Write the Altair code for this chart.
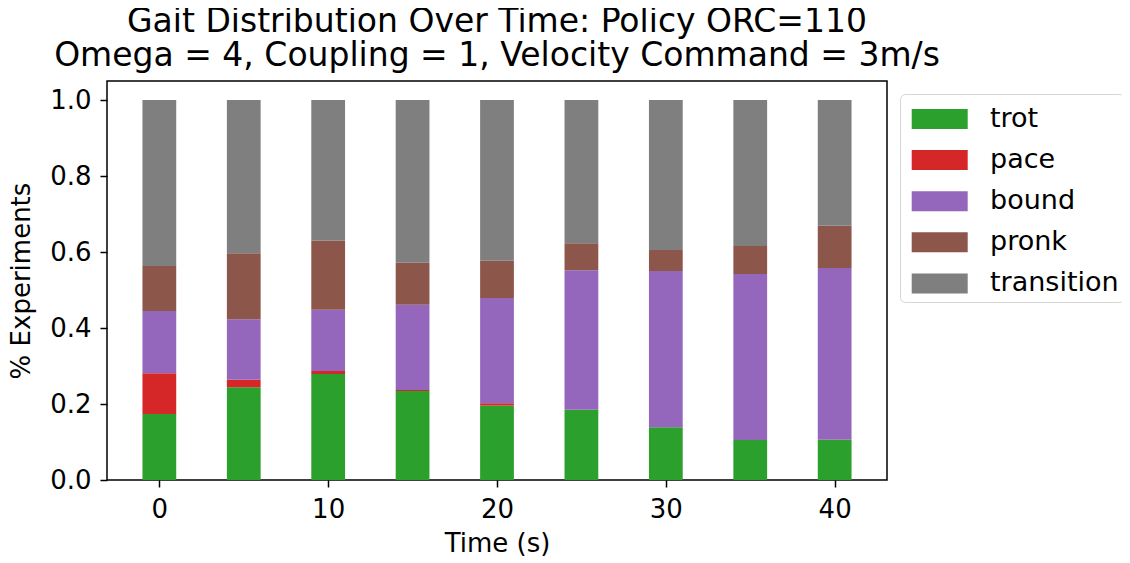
import altair as alt
import pandas as pd

times = [0, 5, 10, 15, 20, 25, 30, 35, 40]
gaits = ["trot", "pace", "bound", "pronk", "transition"]
colors = ["#2ca02c", "#d62728", "#9467bd", "#8c564b", "#7f7f7f"]

trot = [0.174, 0.244, 0.279, 0.234, 0.196, 0.185, 0.139, 0.105, 0.106]
pace = [0.107, 0.020, 0.008, 0.003, 0.006, 0.000, 0.000, 0.000, 0.000]
bound = [0.164, 0.159, 0.161, 0.224, 0.277, 0.367, 0.411, 0.437, 0.452]
pronk = [0.118, 0.174, 0.182, 0.111, 0.098, 0.071, 0.055, 0.074, 0.111]
transition = [0.437, 0.403, 0.370, 0.428, 0.423, 0.377, 0.395, 0.384, 0.331]

series = [trot, pace, bound, pronk, transition]
rows = []
for gi, (g, vals) in enumerate(zip(gaits, series)):
    for t, v in zip(times, vals):
        rows.append({"t": t, "gait": g, "idx": gi, "value": v})
df = pd.DataFrame(rows)

FONT = "DejaVu Sans"

bars = alt.Chart(df).transform_stack(
    stack="value", groupby=["t"], as_=["y0", "y1"],
    sort=[alt.SortField("idx", order="ascending")]
).transform_calculate(
    x0="datum.t - 1", x1="datum.t + 1"
).mark_bar(strokeWidth=0).encode(
    x=alt.X("x0:Q", scale=alt.Scale(domain=[-3.1, 43.1], nice=False, zero=False, padding=0),
            axis=alt.Axis(values=[0, 10, 20, 30, 40], format="d", title="Time (s)")),
    x2="x1:Q",
    y=alt.Y("y0:Q", scale=alt.Scale(domain=[0, 1.05], nice=False, padding=0),
            axis=alt.Axis(values=[0, 0.2, 0.4, 0.6, 0.8, 1.0], format=".1f", title="% Experiments")),
    y2="y1:Q",
    color=alt.Color("gait:N", scale=alt.Scale(domain=gaits, range=colors),
                    legend=alt.Legend(title=None, orient="none", legendX=793, legendY=13,
                                      symbolType="M-0.665,-0.5H2.135V0.5H-0.665Z", symbolSize=1600,
                                      symbolStrokeWidth=0, labelOffset=45, padding=5,
                                      rowPadding=8.1, strokeColor="#d6d6d6", fillColor="white",
                                      cornerRadius=5, labelFontSize=27, labelFont=FONT,
                                      labelColor="black", symbolOpacity=1)),
)

chart = bars.properties(
    width=780, height=399,
    padding={"left": 99, "top": 73, "right": 235, "bottom": 83},
    autosize=alt.AutoSizeParams(type="none"),
    title=alt.TitleParams(
        text=["Gait Distribution Over Time: Policy ORC=110",
              "Omega = 4, Coupling = 1, Velocity Command = 3m/s"],
        fontSize=33, font=FONT, fontWeight="normal", color="black",
        anchor="middle", frame="group", lineHeight=34, offset=8),
).configure_view(
    stroke="black", strokeWidth=1.5
).configure_axis(
    domain=False, grid=False, tickColor="black", tickSize=7, tickWidth=1.5,
    labelFont=FONT, labelFontSize=26, labelColor="black", labelPadding=9,
    titleFont=FONT, titleFontSize=26, titleColor="black", titleFontWeight="normal",
).configure_axisY(titlePadding=15).configure_axisX(titlePadding=8)

chart.save("out.html", embed_options={"renderer": "svg", "actions": False})
